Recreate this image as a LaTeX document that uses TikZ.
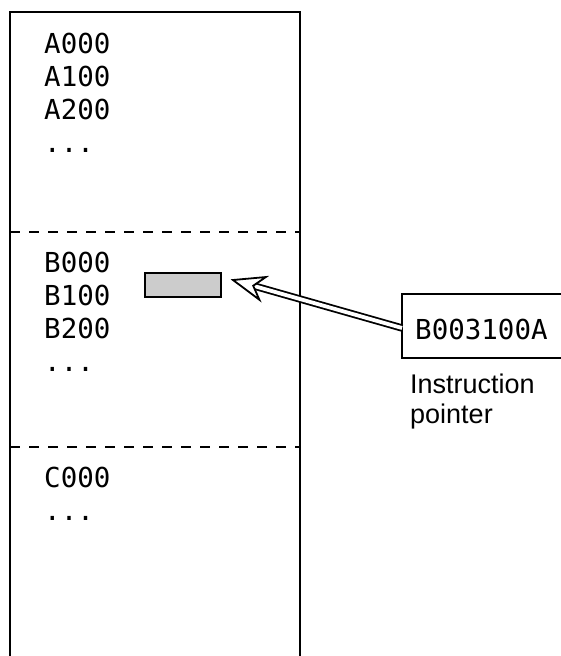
\documentclass[tikz,border=0pt]{standalone}
\usepackage{fontspec}
\setmainfont{Liberation Sans}
\newfontfamily\codefont{DejaVu Sans Mono}
\usetikzlibrary{calc}
\begin{document}
\begin{tikzpicture}[x=1pt,y=-1pt,
  code/.style={anchor=base west,inner sep=0pt,font=\codefont\fontsize{27.5}{30}\selectfont},
  lbl/.style={anchor=base west,inner sep=0pt,font=\fontsize{27}{30}\selectfont},
  wall/.style={line width=2.2pt},
  sep/.style={line width=2pt,dash pattern=on 10pt off 9pt},
  hole/.style={line width=2pt,fill=black!20}]
\useasboundingbox (0,0) rectangle (560,656);
% memory column
\draw[wall] (10,660) -- (10,12) -- (300,12) -- (300,660);
\draw[sep] (10,232) -- (300,232);
\draw[sep] (10,447) -- (300,447);
% addresses
\node[code] (a0) at (44,53) {A000};
\node[code] (a1) at (44,86) {A100};
\node[code] (a2) at (44,119) {A200};
\node[code] (a3) at (44,152) {...};
\node[code] (b0) at (44,272) {B000};
\node[code] (b1) at (44,305) {B100};
\node[code] (b2) at (44,338) {B200};
\node[code] (b3) at (44,371) {...};
\node[code] (c0) at (44,487) {C000};
\node[code] (c1) at (44,520) {...};
% current instruction slot
\node[hole,draw,minimum width=76pt,minimum height=24pt,inner sep=0pt,anchor=north west] (slot) at (144,272) {};
% instruction pointer register
\draw[wall] (570,294) -- (402,294) -- (402,358) -- (570,358);
\coordinate (ipw) at (402,328);
\node[code] (ipv) at (415,339) {B003100A};
\node[lbl] (ip1) at (410,393) {Instruction};
\node[lbl] (ip2) at (410,423) {pointer};
% hollow arrow
\coordinate (tip) at (233,280);
\draw[line width=1.8pt,double=white,double distance=3.8pt] (ipw) -- ($(tip)!22pt!(ipw)$);
\draw[line width=1.8pt,fill=white,line join=miter]
  let \p1=($(ipw)-(tip)$), \n1={atan2(\y1,\x1)} in
  (tip) -- ($(tip)+(\n1+21:33pt)$) -- ($(tip)+(\n1:21pt)$) -- ($(tip)+(\n1-21:33pt)$) -- cycle;
\end{tikzpicture}
\end{document}
